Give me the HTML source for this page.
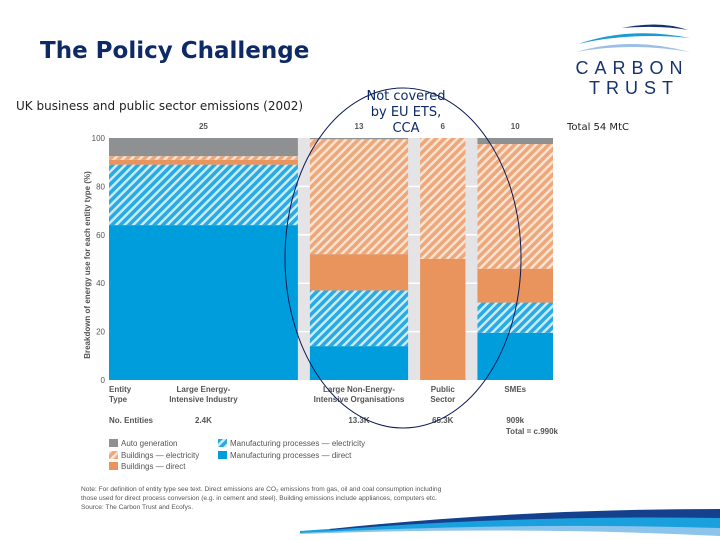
<!DOCTYPE html>
<html><head><meta charset="utf-8"><style>
body{margin:0;width:720px;height:540px;background:#fff;overflow:hidden;font-family:"Liberation Sans",sans-serif}
svg{display:block}
</style></head><body>
<svg id="c" width="720" height="540" viewBox="0 0 720 540">
<defs>
<pattern id="hb" width="6" height="6" patternUnits="userSpaceOnUse" patternTransform="rotate(45)"><rect width="6" height="6" fill="#2aaae2"/><rect width="2.5" height="6" fill="#c8ecfa"/></pattern>
<pattern id="ho" width="6" height="6" patternUnits="userSpaceOnUse" patternTransform="rotate(45)"><rect width="6" height="6" fill="#eda77a"/><rect width="2.5" height="6" fill="#fbe3d2"/></pattern>
</defs>
<text x="40" y="58" font-size="23" font-weight="bold" fill="#0d2a66" font-family="DejaVu Sans, sans-serif">The Policy Challenge</text>
<text x="16" y="110" font-size="12" fill="#222" font-family="DejaVu Sans, sans-serif">UK business and public sector emissions (2002)</text>
<g>
<path d="M578 44 Q630 26 690 38 Q630 32 578 44Z" fill="#1a9ad6"/>
<path d="M622 28 Q660 20 688 30 Q660 25 622 28Z" fill="#17336f"/>
<path d="M576 52 Q630 36 690 52 Q630 42 576 52Z" fill="#9cbfe6"/>
<text x="632" y="74" font-size="18" fill="#17336f" text-anchor="middle" letter-spacing="6">CARBON</text>
<text x="634" y="94" font-size="18" fill="#17336f" text-anchor="middle" letter-spacing="6">TRUST</text>
</g>
<text x="567" y="130" font-size="10" fill="#222" font-family="DejaVu Sans, sans-serif">Total 54 MtC</text>
<g id="plot"></g>
<g font-size="8" fill="#555" text-anchor="end" id="yax"></g>
<text transform="translate(90,265) rotate(-90)" font-size="8" fill="#555" text-anchor="middle" font-weight="bold">Breakdown of energy use for each entity type (%)</text>
<g font-size="8" fill="#555" font-weight="bold">
<text x="109" y="392">Entity</text><text x="109" y="402">Type</text>
<text x="109" y="423">No. Entities</text>
<text x="558" y="434" text-anchor="end">Total = c.990k</text>
</g>
<g id="xl" font-size="8" fill="#555" font-weight="bold" text-anchor="middle"></g>
<g font-size="8" fill="#555">
<rect x="109" y="439" width="9" height="8" fill="#8f9092"/><text x="121" y="446">Auto generation</text>
<rect x="109" y="451" width="9" height="8" fill="url(#ho)"/><text x="121" y="458">Buildings — electricity</text>
<rect x="109" y="462" width="9" height="8" fill="#e8945c"/><text x="121" y="469">Buildings — direct</text>
<rect x="218" y="439" width="9" height="8" fill="url(#hb)"/><text x="230" y="446">Manufacturing processes — electricity</text>
<rect x="218" y="451" width="9" height="8" fill="#009ddc"/><text x="230" y="458">Manufacturing processes — direct</text>
</g>
<g font-size="6.6" fill="#555">
<text x="81" y="491">Note: For definition of entity type see text. Direct emissions are CO₂ emissions from gas, oil and coal consumption including</text>
<text x="81" y="500">those used for direct process conversion (e.g. in cement and steel). Building emissions include appliances, computers etc.</text>
<text x="81" y="509">Source: The Carbon Trust and Ecofys.</text>
</g>
<g>
<path d="M300 533 Q500 522 720 520 L720 536 Q520 526 300 534Z" fill="#8cc4ec"/>
<path d="M300 531 Q500 516 720 515 L720 528 Q520 522 300 533Z" fill="#1aa0dc"/>
<path d="M330 529 Q520 509 720 509 L720 518 Q520 515 330 530Z" fill="#15408e"/>
</g>
<ellipse cx="403" cy="258" rx="118" ry="170" fill="none" stroke="#0d1a55" stroke-width="1"/>
<g font-size="13" fill="#0d2a66" text-anchor="middle" font-family="DejaVu Sans, sans-serif">
<text x="406" y="100">Not covered</text><text x="406" y="116">by EU ETS,</text><text x="406" y="132">CCA</text>
</g>
</svg>
<script>
const categories=["Large Energy-|Intensive Industry","Large Non-Energy-|Intensive Organisations","Public|Sector","SMEs"];
const emissions=[25,13,6,10];
const entityCounts=["2.4K","13.3K","65.3K","909k"];
const mfgDirect=[64,14,0,19.5];
const mfgElec=[25,23,0,12.5];
const bldgDirect=[2,15,50,14];
const bldgElec=[1.5,47.5,50,51.5];
const autoGen=[7.5,0.5,0,2.5];
const yTicks=[0,20,40,60,80,100];
const NS="http://www.w3.org/2000/svg";
const X0=109,X1=553,GAP=12,Y0=380,Y100=138;
const y=v=>Y0-(v/100)*(Y0-Y100);
const total=emissions.reduce((a,b)=>a+b,0);
const unit=(X1-X0-GAP*(emissions.length-1))/total;
const plot=document.getElementById('plot');
function mk(tag,at,parent){const e=document.createElementNS(NS,tag);for(const k in at)e.setAttribute(k,at[k]);parent.appendChild(e);return e;}
const bg=mk('rect',{x:X0,y:Y100,width:X1-X0,height:Y0-Y100,fill:'#e4e4e6'},plot);


yTicks.forEach(t=>{if(t>0&&t<100){const l=mk('line',{x1:X0,x2:X1,y1:y(t),y2:y(t),stroke:'#fff','stroke-width':1.5},plot);

}
const tx=mk('text',{x:105,y:y(t)+3},document.getElementById('yax'));tx.textContent=t;

});
const series=[[mfgDirect,'#009ddc','mfg-direct'],[mfgElec,'url(#hb)','mfg-elec'],[bldgDirect,'#e8945c','bldg-direct'],[bldgElec,'url(#ho)','bldg-elec'],[autoGen,'#8f9092','auto-gen']];
let x=X0;const xl=document.getElementById('xl');
categories.forEach((c,i)=>{const w=emissions[i]*unit;let cum=0;
series.forEach(([arr,fill,nm])=>{const v=arr[i];if(v>0){const r=mk('rect',{x:x,y:y(cum+v),width:w,height:y(cum)-y(cum+v),fill:fill},plot);

}cum+=v;});
const cx=x+w/2;
const et=mk('text',{x:cx,y:129},xl);et.textContent=emissions[i];


c.split('|').forEach((p,j)=>{const t=mk('text',{x:cx,y:392+j*10},xl);t.textContent=p;

});
const n=mk('text',{x:cx,y:423},xl);n.textContent=entityCounts[i];


x+=w+GAP;});
</script>
</body></html>
